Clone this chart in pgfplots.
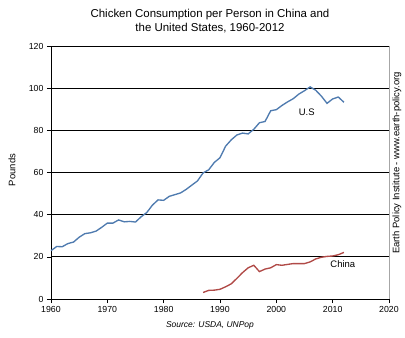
\documentclass[border=0pt]{standalone}
\usepackage{pgfplots}
\pgfplotsset{compat=1.18}
\usepackage{fontspec}
\setmainfont{Liberation Sans}
\definecolor{usblue}{HTML}{4F7BAF}
\definecolor{cnred}{HTML}{B04A47}
\begin{document}
\begin{tikzpicture}
\useasboundingbox (-51bp,-39bp) rectangle (354bp,299bp);
\begin{axis}[
  scale only axis, width=338bp, height=253bp,
  at={(0,0)}, anchor=south west,
  xmin=1960, xmax=2020, ymin=0, ymax=120,
  xtick={1960,1970,...,2020}, ytick={0,20,...,120},
  axis lines*=left,
  axis line style={black, line width=0.8pt},
  tick align=outside, major tick length=4bp,
  tick style={black, line width=0.6pt},
  ymajorgrids, grid style={black, line width=0.7pt},
  xticklabel style={font=\fontsize{8.8}{10}\selectfont, /pgf/number format/1000 sep={}},
  yticklabel style={font=\fontsize{8.8}{10}\selectfont},
  /pgf/number format/assume math mode=true,
  x tick label style={/pgf/number format/1000 sep={}},
  clip=false,
]
\addplot[usblue, line width=1.35pt] coordinates {
(1960,22.9)(1961,24.9)(1962,24.8)(1963,26.3)(1964,27.0)(1965,29.3)(1966,31.0)(1967,31.4)(1968,32.2)(1969,34.0)
(1970,36.0)(1971,36.0)(1972,37.5)(1973,36.6)(1974,36.8)(1975,36.5)(1976,39.0)(1977,41.0)(1978,44.5)(1979,47.0)
(1980,46.8)(1981,48.7)(1982,49.5)(1983,50.3)(1984,52.0)(1985,54.0)(1986,56.0)(1987,59.8)(1988,61.3)(1989,64.8)
(1990,67.0)(1991,72.5)(1992,75.5)(1993,77.8)(1994,78.7)(1995,78.3)(1996,80.5)(1997,83.6)(1998,84.2)(1999,89.3)
(2000,89.8)(2001,91.8)(2002,93.5)(2003,95.0)(2004,97.2)(2005,98.8)(2006,100.6)(2007,99.0)(2008,96.2)(2009,92.8)
(2010,94.9)(2011,95.8)(2012,93.3)};
\addplot[cnred, line width=1.35pt] coordinates {
(1987,3.1)(1988,4.1)(1989,4.2)(1990,4.6)(1991,5.8)(1992,7.2)(1993,9.8)(1994,12.5)(1995,14.8)(1996,16.0)
(1997,13.0)(1998,14.2)(1999,14.8)(2000,16.3)(2001,16.0)(2002,16.4)(2003,16.8)(2004,16.8)(2005,16.8)(2006,17.6)
(2007,19.0)(2008,19.8)(2009,20.2)(2010,20.4)(2011,21.0)(2012,22.1)};
\draw[gray!70, line width=0.8pt] (rel axis cs:1,0) -- (rel axis cs:1,1);
\node[font=\fontsize{9.5}{10}\selectfont] at (axis cs:2005.4,88.5) {U.S};
\node[font=\fontsize{9.5}{10}\selectfont] at (axis cs:2011.8,16.5) {China};
\end{axis}
\node[align=center, font=\fontsize{11.5}{14}\selectfont] at (159bp,278bp) {Chicken Consumption per Person in China and\\the United States, 1960-2012};
\node[rotate=90, font=\fontsize{9.5}{11}\selectfont] at (-39bp,129bp) {Pounds};
\node[rotate=90, font=\fontsize{9.5}{10}\selectfont] at (346bp,136bp) {Earth Policy Institute - www.earth-policy.org};
\node[font=\fontsize{8.5}{10}\itshape\selectfont] at (159bp,-26bp) {Source: USDA, UNPop};
\end{tikzpicture}
\end{document}
